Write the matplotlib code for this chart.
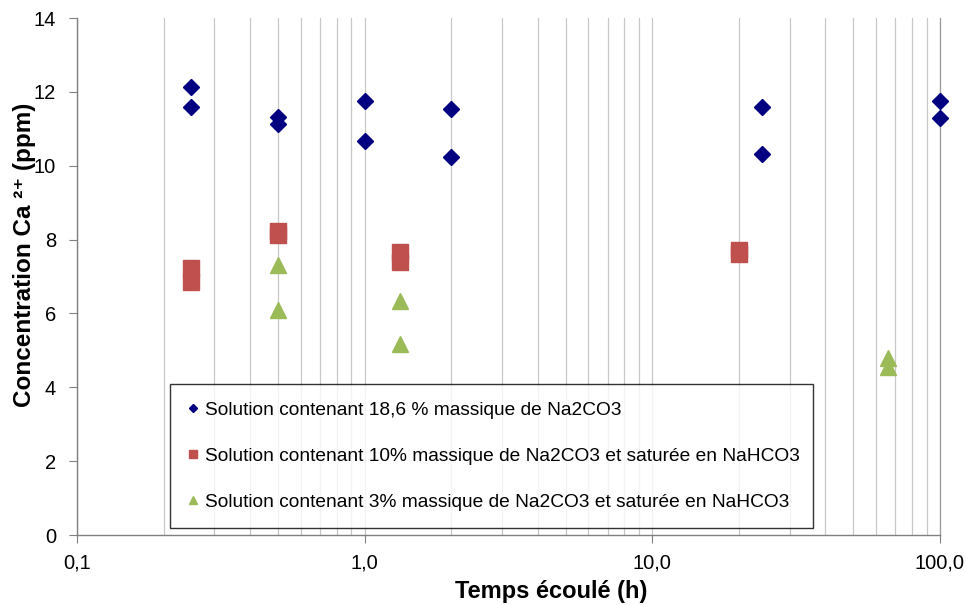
import matplotlib
matplotlib.use("Agg")
import matplotlib.pyplot as plt
from matplotlib.ticker import FixedLocator, FuncFormatter, LogLocator, NullFormatter
from matplotlib import font_manager

# ---------------- data ----------------
x_blue = [0.25, 0.25, 0.5, 0.5, 1.0, 1.0, 2.0, 2.0, 24, 24, 100, 100]
y_blue = [12.13, 11.59, 11.32, 11.12, 11.75, 10.66, 11.54, 10.23, 11.60, 10.31, 11.74, 11.28]

x_red = [0.25, 0.25, 0.5, 0.5, 1.33, 1.33, 20, 20]
y_red = [7.22, 6.86, 8.22, 8.12, 7.66, 7.40, 7.72, 7.62]

x_green = [0.5, 0.5, 1.33, 1.33, 66, 66]
y_green = [7.30, 6.08, 6.34, 5.16, 4.78, 4.56]

labels = [
    "Solution contenant 18,6 % massique de Na2CO3",
    "Solution contenant 10% massique de Na2CO3 et saturée en NaHCO3",
    "Solution contenant 3% massique de Na2CO3 et saturée en NaHCO3",
]
x_ticks = [0.1, 1.0, 10.0, 100.0]
y_ticks = [0, 2, 4, 6, 8, 10, 12, 14]

# ---------------- style ----------------
names = {f.name for f in font_manager.fontManager.ttflist}
base = "Liberation Sans" if "Liberation Sans" in names else "DejaVu Sans"
plt.rcParams['font.family'] = [base, 'DejaVu Sans']

fig = plt.figure(figsize=(9.66, 6.05), dpi=100)
ax = fig.add_axes([0.0797, 0.1157, 0.8933, 0.8545])

ax.plot(x_blue, y_blue, linestyle='none', marker='D', markersize=8.3,
        color='#000080', label=labels[0], clip_on=False, zorder=3)
ax.plot(x_red, y_red, linestyle='none', marker='s', markersize=11.5,
        color='#C0504D', label=labels[1], clip_on=False, zorder=3)
ax.plot(x_green, y_green, linestyle='none', marker='^', markersize=11,
        color='#9BBB59', label=labels[2], clip_on=False, zorder=3)

ax.set_xscale('log')
ax.set_xlim(0.1, 100)
ax.set_ylim(0, 14)
ax.xaxis.set_major_locator(FixedLocator(x_ticks))
ax.xaxis.set_major_formatter(FuncFormatter(lambda v, p: f"{v:.1f}".replace('.', ',')))
ax.xaxis.set_minor_locator(LogLocator(base=10, subs=range(2, 10)))
ax.xaxis.set_minor_formatter(NullFormatter())
ax.set_yticks(y_ticks)

ax.grid(True, axis='x', which='both', color='#c8c8c8', linewidth=0.9)
ax.set_axisbelow(True)
for s in ['top']:
    ax.spines[s].set_visible(False)
ax.spines['right'].set_color('#9a9a9a')
ax.spines['right'].set_linewidth(0.9)
for s in ['left', 'bottom']:
    ax.spines[s].set_color('#808080')
    ax.spines[s].set_linewidth(1.0)

ax.tick_params(axis='both', which='major', direction='out', length=6,
               color='#808080', labelsize=14.5)
ax.tick_params(axis='x', which='minor', length=0)
ax.tick_params(axis='x', which='major', pad=7)
ax.tick_params(axis='y', which='major', pad=9)

ax.set_xlabel("Temps écoulé (h)", fontsize=17, fontweight='bold')
ax.xaxis.set_label_coords(0.549, -0.087)
ax.set_ylabel("Concentration Ca ²⁺ (ppm)", fontsize=17.5, fontweight='bold')
ax.yaxis.set_label_coords(-0.0475, 0.5416)

leg = ax.legend(loc='lower left', bbox_to_anchor=(0.1083, 0.0130, 0.7452, 0.2785),
                mode='expand', frameon=True, fancybox=False, markerscale=0.55,
                handlelength=0.6, handletextpad=0.3, labelspacing=1.5,
                borderpad=0.9, prop={'size': 13.8}, borderaxespad=0)
leg.get_frame().set_edgecolor('#000000')
leg.get_frame().set_linewidth(1.0)

fig.savefig("out.png", dpi=100)
